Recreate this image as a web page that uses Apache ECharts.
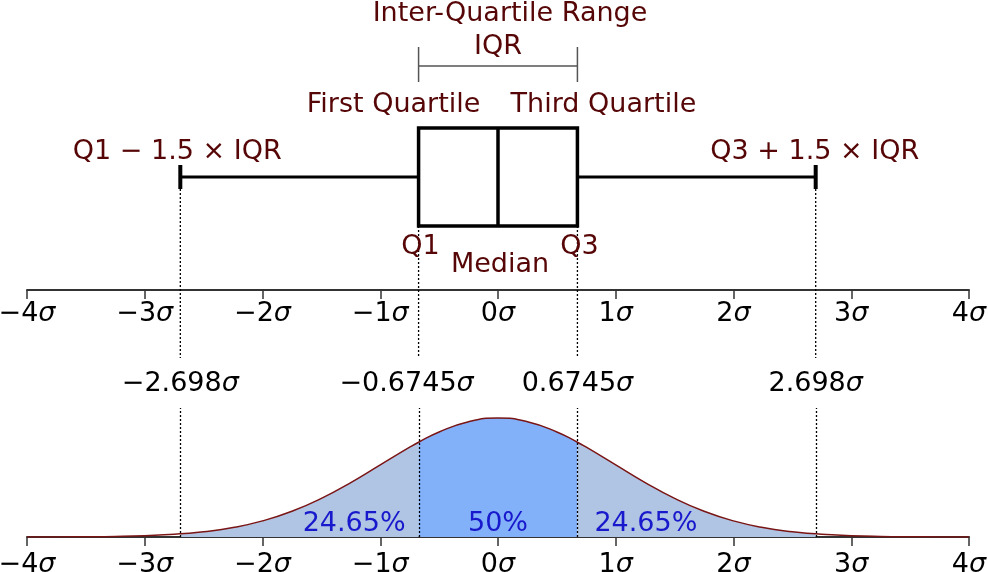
<!DOCTYPE html>
<html><head><meta charset="utf-8">
<script src="https://cdn.jsdelivr.net/npm/echarts@6/dist/echarts.min.js"></script>
<style>html,body{margin:0;padding:0;background:#fff}#c{width:988px;height:572px}</style>
</head><body><div id="c"></div>
<script>
// ---- data ----
const sigmaTicks = [-4, -3, -2, -1, 0, 1, 2, 3, 4];
// lower whisker, Q1, median, Q3, upper whisker (in sigma)
const boxStats = [-2.698, -0.6745, 0, 0.6745, 2.698];
const boundaryLabels = ['−2.698', '−0.6745', '0.6745', '2.698'];
const pdfX = [-4, -3.75, -3.5, -3.25, -3, -2.75, -2.698, -2.5, -2.25, -2, -1.75, -1.5, -1.25, -1, -0.75, -0.6745, -0.5, -0.25, 0,
              0.25, 0.5, 0.6745, 0.75, 1, 1.25, 1.5, 1.75, 2, 2.25, 2.5, 2.698, 2.75, 3, 3.25, 3.5, 3.75, 4];
const pdfY = [0.0001, 0.0004, 0.0009, 0.0020, 0.0044, 0.0091, 0.0105, 0.0175, 0.0317, 0.0540, 0.0863, 0.1295, 0.1826, 0.2420, 0.3011, 0.3178, 0.3521, 0.3867, 0.3989,
              0.3867, 0.3521, 0.3178, 0.3011, 0.2420, 0.1826, 0.1295, 0.0863, 0.0540, 0.0317, 0.0175, 0.0105, 0.0091, 0.0044, 0.0020, 0.0009, 0.0004, 0.0001];
const shares = [24.65, 50, 24.65];
const annotations = {
  iqrTitle: 'Inter-Quartile Range', iqr: 'IQR',
  first: 'First Quartile', third: 'Third Quartile',
  low: 'Q1 − 1.5 × IQR', high: 'Q3 + 1.5 × IQR',
  q1: 'Q1', q3: 'Q3', median: 'Median'
};

// ---- build ----
const FONT = '"DejaVu Sans", sans-serif';
const FS = 27;
const RED = '#560606';
const pts = pdfX.map((x, i) => [x, pdfY[i]]);
const between = (a, b) => pts.filter(p => p[0] >= a - 1e-9 && p[0] <= b + 1e-9);

function fmtSigma(v) {
  return (v < 0 ? '−' + Math.abs(v) : String(v)) + '{s|σ}';
}
function xAxisCfg(grid, margin) {
  return {
    type: 'value', gridIndex: grid, min: sigmaTicks[0], max: sigmaTicks[sigmaTicks.length - 1], interval: 1,
    splitLine: { show: false },
    axisLine: { lineStyle: { color: '#333', width: 2 } },
    axisTick: { length: 9, lineStyle: { color: '#333', width: 1.5 } },
    axisLabel: {
      margin: margin, color: '#000', fontSize: FS, fontFamily: FONT,
      formatter: fmtSigma,
      rich: { s: { fontStyle: 'italic', fontSize: FS, fontFamily: FONT, color: '#000' } }
    }
  };
}

const chart = echarts.init(document.getElementById('c'), null, { renderer: 'canvas' });

const fillBase = {
  type: 'line', xAxisIndex: 1, yAxisIndex: 1, smooth: true, showSymbol: false, silent: true,
  lineStyle: { width: 0 }, z: 1
};

chart.setOption({
  animation: false,
  backgroundColor: '#fff',
  grid: [
    { left: 27, right: 19, top: 0, height: 290, containLabel: false, outerBoundsMode: 'none' },
    { left: 27, right: 19, top: 408, height: 129, containLabel: false, outerBoundsMode: 'none' }
  ],
  xAxis: [xAxisCfg(0, 10), xAxisCfg(1, 14)],
  yAxis: [
    { type: 'value', gridIndex: 0, min: 0, max: 1, show: false },
    { type: 'value', gridIndex: 1, min: 0, max: 0.4325, show: false }
  ],
  series: [
    Object.assign({}, fillBase, { data: between(boxStats[0], boxStats[1]), areaStyle: { color: '#b0c5e3', opacity: 1 } }),
    Object.assign({}, fillBase, { data: between(boxStats[1], boxStats[3]), areaStyle: { color: '#82b1f9', opacity: 1 } }),
    Object.assign({}, fillBase, { data: between(boxStats[3], boxStats[4]), areaStyle: { color: '#b0c5e3', opacity: 1 } }),
    {
      type: 'line', xAxisIndex: 1, yAxisIndex: 1, smooth: true, showSymbol: false, silent: true, z: 3,
      data: pts, lineStyle: { color: '#7a1515', width: 1.5 },
      markLine: {
        silent: true, symbol: 'none', label: { show: false },
        lineStyle: { type: [2, 2], color: '#000', width: 1.3 },
        data: [boxStats[0], boxStats[1], boxStats[3], boxStats[4]].map(v => ({ xAxis: v }))
      }
    },
    {
      type: 'custom', xAxisIndex: 0, yAxisIndex: 0, clip: false, silent: true, z: 5,
      data: [boxStats],
      encode: { x: [0, 1, 2, 3, 4] },
      renderItem: function (params, api) {
        const cs = params.coordSys;
        const px = i => api.coord([api.value(i), 0])[0];
        const wLo = px(0), q1 = px(1), med = px(2), q3 = px(3), wHi = px(4);
        const top = cs.y;
        const cy = top + 177, bh = 49, ch = 12, dotEnd = top + 358;
        const line = (x1, y1, x2, y2, style) => ({ type: 'line', shape: { x1, y1, x2, y2 }, style: Object.assign({ stroke: '#000', lineWidth: 3 }, style) });
        const dot = { stroke: '#000', lineWidth: 1.3, lineDash: [2, 2] };
        const txt = (text, x, y, fill, align) => ({
          type: 'text', x, y: y + 2,
          style: {
            text, fill: fill || RED, font: FS + 'px ' + FONT, align: align || 'center', verticalAlign: 'middle',
            rich: { s: { fontStyle: 'italic', fontSize: FS, fontFamily: FONT, fill: fill || RED } }
          }
        });
        const ch2 = [
          // dotted guides from box to axis labels
          line(wLo, cy + ch, wLo, dotEnd, dot),
          line(q1, cy + bh, q1, dotEnd, dot),
          line(q3, cy + bh, q3, dotEnd, dot),
          line(wHi, cy + ch, wHi, dotEnd, dot),
          // whiskers
          line(wLo, cy, q1, cy, { lineWidth: 3 }),
          line(q3, cy, wHi, cy, { lineWidth: 3 }),
          line(wLo, cy - ch, wLo, cy + ch, { lineWidth: 4 }),
          line(wHi, cy - ch, wHi, cy + ch, { lineWidth: 4 }),
          // box
          { type: 'rect', shape: { x: q1, y: cy - bh, width: q3 - q1, height: 2 * bh }, style: { fill: '#fff', stroke: '#000', lineWidth: 3.5 } },
          line(med, cy - bh, med, cy + bh, { lineWidth: 3.5 }),
          // IQR bracket
          line(q1, top + 66, q3, top + 66, { stroke: '#555', lineWidth: 1.5 }),
          line(q1, top + 47, q1, top + 82, { stroke: '#555', lineWidth: 1.5 }),
          line(q3, top + 47, q3, top + 82, { stroke: '#555', lineWidth: 1.5 }),
          // annotations
          txt(annotations.iqrTitle, (q1 + q3) / 2 + 12, top + 12),
          txt(annotations.iqr, med, top + 45),
          txt(annotations.first, q1 - 25, top + 103),
          txt(annotations.third, q3 + 26, top + 103),
          txt(annotations.low, wLo - 3, top + 150),
          txt(annotations.high, wHi - 1, top + 150),
          txt(annotations.q1, q1 + 2, top + 245),
          txt(annotations.q3, q3 + 2, top + 245),
          txt(annotations.median, med + 2, top + 263),
          // boundary value labels
          txt(boundaryLabels[0] + '{s|σ}', wLo, top + 382, '#000'),
          txt(boundaryLabels[1] + '{s|σ}', q1 - 12, top + 382, '#000'),
          txt(boundaryLabels[2] + '{s|σ}', q3, top + 382, '#000'),
          txt(boundaryLabels[3] + '{s|σ}', wHi, top + 382, '#000'),
          // percentages
          txt(shares[0] + '%', q1 - 13, top + 522, '#1818cc', 'right'),
          txt(shares[1] + '%', med, top + 522, '#1818cc', 'center'),
          txt(shares[2] + '%', q3 + 17, top + 522, '#1818cc', 'left')
        ];
        return { type: 'group', children: ch2 };
      }
    }
  ]
});
</script>
</body></html>
